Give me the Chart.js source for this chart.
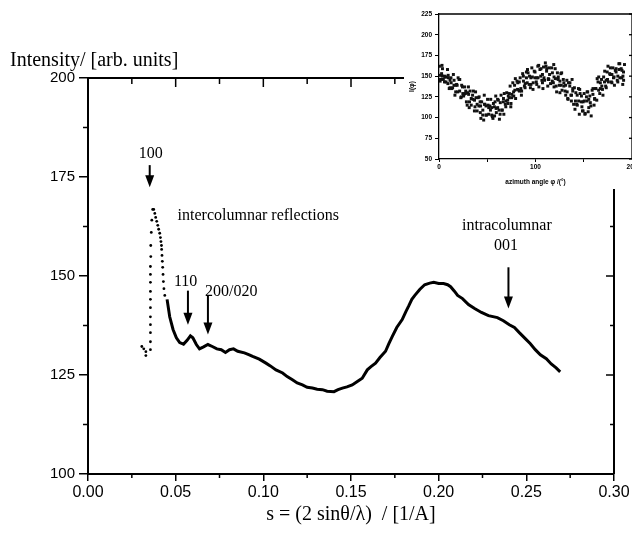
<!DOCTYPE html>
<html><head><meta charset="utf-8">
<script src="https://cdn.jsdelivr.net/npm/chart.js@4.4.1/dist/chart.umd.min.js"></script>
<style>
html,body{margin:0;padding:0;background:#fff;overflow:hidden;width:632px;height:535px;position:relative;}
#mainWrap{position:absolute;left:0;top:0;width:632px;height:535px;}
#insetWrap{position:absolute;left:404px;top:0;width:236px;height:189px;background:#fff;}
canvas{display:block;}
</style></head><body>
<div id="mainWrap"><canvas id="main" width="632" height="535"></canvas></div>
<div id="insetWrap"><canvas id="inset" width="236" height="189"></canvas></div>
<script>
// ---- main chart data ----
const xTickValues = [0, 0.05, 0.10, 0.15, 0.20, 0.25, 0.30];
const yTickValues = [100, 125, 150, 175, 200];

// steep region, drawn as separate dots
const sDots = [0.0307,0.0318,0.0330,0.0330,0.0356,0.0356,0.0356,0.0356,0.0356,0.0356,0.0356,0.0356,0.0356,0.0356,0.0356,0.0358,0.0358,0.0361,0.0364,0.0369,
  0.0375,0.0381,0.0386,0.0392,0.0398,0.0403,0.0409,0.0413,0.0416,0.0419,0.0420,0.0422,0.0424,0.0426,0.0428,0.0430,0.0433,0.0438];
const iDots = [132.2,131.6,130.9,129.9,131.4,133.4,135.7,137.7,139.7,142.0,144.1,146.1,148.4,150.4,152.4,154.9,157.7,161.0,164.1,166.8,
  166.8,165.8,164.8,163.8,162.8,161.8,160.8,159.7,158.7,157.7,156.7,155.2,153.7,152.2,150.4,148.6,146.8,145.1];

// continuous measured curve
const sLine = [0.0451,0.0466,0.0485,0.0504,0.0523,0.0545,0.0564,0.0584,0.0598,0.0618,0.0636,0.0659,0.0684,0.0709,0.0735,0.0760,0.0784,0.0807,0.0830,0.0854,
  0.0892,0.0920,0.0939,0.0977,0.1015,0.1040,0.1072,0.1110,0.1136,0.1166,0.1193,0.1223,0.1250,0.1280,0.1307,0.1337,0.1364,0.1403,0.1426,0.1451,
  0.1477,0.1507,0.1534,0.1564,0.1593,0.1614,0.1640,0.1665,0.1697,0.1716,0.1735,0.1761,0.1792,0.1813,0.1830,0.1847,0.1864,0.1892,0.1920,0.1949,
  0.1972,0.2000,0.2028,0.2051,0.2068,0.2091,0.2108,0.2136,0.2170,0.2205,0.2244,0.2284,0.2335,0.2369,0.2403,0.2432,0.2460,0.2494,0.2523,0.2551,
  0.2580,0.2614,0.2642,0.2670,0.2693];
const iLine = [144.1,139.7,136.5,134.4,133.2,132.8,133.7,134.9,134.4,132.7,131.6,132.1,132.7,132.2,131.6,131.4,130.7,131.4,131.6,131.0,
  130.6,130.1,129.7,129.0,128.0,127.3,126.3,125.5,124.6,123.8,123.0,122.5,121.9,121.7,121.4,121.3,120.9,120.8,121.3,121.7,
  122.0,122.5,123.3,124.2,126.3,127.1,128.0,129.4,131.0,132.9,134.7,137.0,139.0,141.0,142.5,144.1,145.1,146.6,147.8,148.2,
  148.4,148.1,148.1,147.8,147.3,146.1,145.1,144.3,142.8,141.8,140.8,140.0,139.5,138.7,137.7,137.0,135.7,134.2,132.9,131.4,
  130.1,129.1,127.8,126.8,125.8];

// annotations (data coordinates)
const arrowS    = [0.0352, 0.0570, 0.0684, 0.2398];
const arrowFrom = [178.0, 146.3, 145.1, 152.2];
const arrowTo   = [172.4, 137.7, 135.2, 141.8];
const labelText = ['100', '110', '200/020', 'intercolumnar reflections', 'intracolumnar', '001'];
const labelS    = [0.0358, 0.0557, 0.0817, 0.0511, 0.2389, 0.2384];
const labelI    = [180.8, 148.6, 146.1, 165.3, 162.6, 157.6];
const labelAlign= ['center','center','center','left','center','center'];

// ---- inset data (azimuthal scan) ----
const insetXTicks = [0, 50, 100, 150, 200];
const insetYTicks = [50, 75, 100, 125, 150, 175, 200, 225];
const phiA = [0.4,2.7,3.6,6.3,8.8,9.5,12.4,14.9,15.6,18.2,20.8,21.5,24.3,26.6,27.7,30.5,32.2,34.8,35.6,38.4,40.7,41.6,44.2,46.9,47.5,50.3,52.8,53.6,56.4,58.1,60.7,61.5,64.3,66.8,67.6,70.2,72.9,73.7,76.5,78.3,80.8,81.6,84.1,86.7,87.4,90.6,92.3,93.8,96.2,98.7,99.5,102.4,104.6,105.7,108.3,110.9,111.6,114.2,116.8,117.5,120.4,122.7,123.6,126.3,128.8,129.4,132.5,134.2,135.7,138.6,140.3,141.8,144.5,146.2,147.6,150.4,152.8,153.5,156.3,158.7,159.6,162.2,164.8,165.5,168.4,170.6,171.7,174.3,176.9,177.6,180.2,182.7,183.5,186.4,188.8,189.6,192.2];
const intA = [162,153,159,149,158,151,148,152,145,140,146,146,137,137,132,137,132,127,132,124,124,125,119,127,116,122,114,122,117,119,122,121,127,123,129,130,129,138,142,139,144,142,148,153,150,155,154,150,160,156,155,162,158,159,161,162,159,160,160,154,159,154,149,153,146,142,145,142,142,135,136,130,135,129,126,129,125,131,126,133,135,135,143,149,146,149,156,155,153,160,160,157,159,165,159,157,164];
const phiB = [1.2,1.6,4.5,5.7,7.3,10.6,11.4,13.2,16.5,17.3,19.4,22.6,23.1,25.5,28.4,29.2,31.6,33.4,36.7,37.3,39.5,42.8,43.4,45.3,48.6,49.2,51.5,54.7,55.3,57.6,59.4,62.6,63.3,65.5,68.7,69.2,71.4,74.6,75.3,77.5,79.4,82.8,83.3,85.6,88.5,89.2,91.4,94.7,95.3,97.6,100.8,101.3,103.5,106.6,107.2,109.4,112.7,113.3,115.6,118.5,119.2,121.4,124.7,125.3,127.5,130.6,131.3,133.4,136.7,137.2,139.5,142.6,143.3,145.4,148.7,149.3,151.5,154.6,155.2,157.4,160.7,161.3,163.5,166.6,167.2,169.4,172.7,173.3,175.5,178.6,179.2,181.4,184.7,185.3,187.5,190.6,191.3];
const intB = [144,146,146,143,143,135,136,135,127,131,131,124,125,126,119,115,119,115,108,113,108,106,99,103,103,103,104,103,101,102,106,98,104,109,116,113,117,117,124,126,123,133,132,132,138,136,142,136,140,142,143,140,137,145,142,145,138,147,141,142,137,138,139,130,133,132,127,123,127,120,116,116,115,104,108,108,105,107,112,114,115,123,121,129,135,134,138,136,143,143,142,149,145,143,148,150,145];
const phiC = [1.5,3.3,5.6,7.2,9.7,11.4,12.6,15.5,17.3,18.8,21.4,23.5,24.7,27.3,29.6,30.7,33.4,35.2,36.8,39.5,41.3,42.6,45.4,47.2,48.7,51.5,53.3,54.6,57.4,59.2,60.8,63.5,65.3,66.6,69.4,71.2,72.7,75.5,77.3,78.6,81.4,83.2,84.8,87.5,89.3,90.6,93.4,95.2,96.7,99.5,101.3,102.6,105.4,107.2,108.8,111.5,113.3,114.6,117.4,119.2,120.7,123.5,125.3,126.6,129.4,131.2,132.8,135.5,137.3,138.6,141.4,143.2,144.7,147.5,149.3,150.6,153.4,155.2,156.8,159.5,161.3,162.6,165.4,167.2,168.7,171.5,173.3,174.6,177.4,179.2,180.8,183.5,185.3,186.6,189.4,191.2];
const intC = [151,150,150,149,148,145,142,139,139,139,132,139,129,129,130,128,123,122,121,116,114,119,109,116,114,112,109,112,113,111,112,118,109,119,120,121,124,128,131,133,134,143,135,144,141,148,140,148,149,148,148,148,150,152,148,156,146,152,144,149,147,146,144,139,138,139,131,138,127,132,120,127,120,119,119,120,120,122,118,128,122,135,133,142,138,143,145,146,152,152,148,155,150,158,148,155];
const phiD = [3.1,9.2,14.1,19.8,25.9,31.3,37.9,43.1,46.3,50.8,55.9,58.8,62.2,67.2,71.8,74.4,79.1,85.4,91.7,97.4,103.3,107.7,110.2,113.8,118.9,121.9,127.1,133.7,137.9,140.9,145.8,148.1,151.2,154.1,157.7,163.9,169.9,175.1,181.8,187.3,190.4];
const intD = [163,141,136,148,128,112,131,114,97,115,99,126,109,104,126,113,147,127,158,134,163,135,166,146,164,131,154,122,146,110,134,113,104,131,102,147,127,162,139,165,140];

const SERIF = '"Liberation Serif", "Times New Roman", serif';
const SANS = '"Liberation Sans", Arial, sans-serif';

function toXY(xs, ys){ return xs.map((v,i)=>({x:v, y:ys[i]})); }

const decorPlugin = {
  id: 'decor',
  afterDraw(chart){
    const ctx = chart.ctx, a = chart.chartArea, sx = chart.scales.x, sy = chart.scales.y;
    ctx.save();
    ctx.strokeStyle = '#000'; ctx.fillStyle = '#000';
    ctx.lineWidth = 2;
    ctx.beginPath();
    ctx.moveTo(a.left, a.top); ctx.lineTo(a.right, a.top); ctx.lineTo(a.right, a.bottom);
    ctx.stroke();
    ctx.lineWidth = 1.5;
    for (let k = 0; k <= 12; k++) {
      const v = k * 0.025, px = sx.getPixelForValue(v), major = (k % 2 === 0);
      ctx.beginPath(); ctx.moveTo(px, a.top); ctx.lineTo(px, a.top + (major ? 9 : 6)); ctx.stroke();
      if (!major) { ctx.beginPath(); ctx.moveTo(px, a.bottom); ctx.lineTo(px, a.bottom + 4); ctx.stroke(); }
    }
    for (let k = 0; k <= 8; k++) {
      const v = 100 + k * 12.5, py = sy.getPixelForValue(v), major = (k % 2 === 0);
      ctx.beginPath(); ctx.moveTo(a.right, py); ctx.lineTo(a.right - (major ? 8 : 4), py); ctx.stroke();
      if (!major) { ctx.beginPath(); ctx.moveTo(a.left, py); ctx.lineTo(a.left - 5, py); ctx.stroke(); }
    }
    ctx.lineWidth = 2;
    arrowS.forEach((s, i) => {
      const x = sx.getPixelForValue(s), y0 = sy.getPixelForValue(arrowFrom[i]), y1 = sy.getPixelForValue(arrowTo[i]);
      ctx.beginPath(); ctx.moveTo(x, y0); ctx.lineTo(x, y1 - 10); ctx.stroke();
      ctx.beginPath(); ctx.moveTo(x - 4.5, y1 - 12); ctx.lineTo(x + 4.5, y1 - 12); ctx.lineTo(x, y1); ctx.closePath(); ctx.fill();
    });
    ctx.font = '16px ' + SERIF;
    ctx.textBaseline = 'middle';
    labelText.forEach((t, i) => {
      ctx.textAlign = labelAlign[i];
      ctx.fillText(t, sx.getPixelForValue(labelS[i]), sy.getPixelForValue(labelI[i]));
    });
    ctx.font = '20px ' + SERIF;
    ctx.textAlign = 'left'; ctx.textBaseline = 'alphabetic';
    ctx.fillText('Intensity/ [arb. units]', 10, 66);
    ctx.restore();
  }
};

new Chart(document.getElementById('main'), {
  type: 'scatter',
  data: { datasets: [
    { data: toXY(sDots, iDots), showLine: false, pointRadius: 1.4, pointBackgroundColor: '#000', pointBorderWidth: 0, borderColor: '#000' },
    { data: toXY(sLine, iLine), showLine: true, borderColor: '#000', borderWidth: 3, pointRadius: 0, tension: 0 }
  ]},
  options: {
    responsive: false, devicePixelRatio: 1, animation: false,
    layout: { padding: { top: 78, right: 18, left: 0, bottom: 0 } },
    plugins: { legend: { display: false }, tooltip: { enabled: false } },
    scales: {
      x: {
        type: 'linear', min: 0, max: 0.3,
        afterBuildTicks: ax => { ax.ticks = xTickValues.map(v => ({ value: v })); },
        afterFit: sc => { sc.height = 61; },
        ticks: { color: '#000', font: { family: SANS, size: 16 }, padding: 2, maxRotation: 0, callback: v => Number(v).toFixed(2) },
        grid: { drawOnChartArea: false, drawTicks: true, tickLength: 7, color: '#000', lineWidth: 1.5 },
        border: { display: true, color: '#000', width: 2 },
        title: { display: true, text: 's = (2 sinθ/λ)  / [1/A]', color: '#000', font: { family: SERIF, size: 20 }, padding: { top: 0, bottom: 8 } }
      },
      y: {
        type: 'linear', min: 100, max: 200,
        afterBuildTicks: ax => { ax.ticks = yTickValues.map(v => ({ value: v })); },
        afterFit: sc => { sc.width = 88; },
        ticks: { color: '#000', font: { family: SANS, size: 15 }, padding: 4 },
        grid: { drawOnChartArea: false, drawTicks: true, tickLength: 9, color: '#000', lineWidth: 1.5 },
        border: { display: true, color: '#000', width: 2 }
      }
    }
  },
  plugins: [decorPlugin]
});

// ---- inset ----
const insetFrame = {
  id: 'insetFrame',
  afterDraw(chart){
    const ctx = chart.ctx, a = chart.chartArea;
    ctx.save(); ctx.strokeStyle = '#000'; ctx.lineWidth = 1.3;
    ctx.beginPath(); ctx.moveTo(a.left, a.top); ctx.lineTo(a.right, a.top); ctx.lineTo(a.right, a.bottom); ctx.stroke();
    const sy = chart.scales.y;
    insetYTicks.forEach(v => { const py = sy.getPixelForValue(v); ctx.beginPath(); ctx.moveTo(a.right, py); ctx.lineTo(a.right - 3, py); ctx.stroke(); });
    ctx.restore();
  }
};
const IFONT = { family: SANS, size: 6.5, weight: 'bold' };
const dotStyle = { pointStyle: 'rect', pointRadius: 2.1, pointBackgroundColor: '#111', pointBorderWidth: 0 };
new Chart(document.getElementById('inset'), {
  type: 'scatter',
  data: { datasets: [
    Object.assign({ data: toXY(phiA, intA) }, dotStyle),
    Object.assign({ data: toXY(phiB, intB) }, dotStyle),
    Object.assign({ data: toXY(phiC, intC) }, dotStyle),
    Object.assign({ data: toXY(phiD, intD) }, dotStyle)
  ]},
  options: {
    responsive: false, devicePixelRatio: 1, animation: false,
    layout: { padding: { top: 14, right: 8, left: 0, bottom: 0 } },
    plugins: { legend: { display: false }, tooltip: { enabled: false } },
    scales: {
      x: {
        type: 'linear', min: 0, max: 200,
        afterBuildTicks: ax => { ax.ticks = insetXTicks.map(v => ({ value: v })); },
        afterFit: sc => { sc.height = 30; },
        ticks: { color: '#000', font: IFONT, padding: 1, maxRotation: 0, callback: v => (v % 100 === 0 ? String(v) : '') },
        grid: { drawOnChartArea: false, tickLength: 3, color: '#000', lineWidth: 1 },
        border: { display: true, color: '#000', width: 1.3 },
        title: { display: true, text: 'azimuth angle φ /(°)', color: '#000', font: IFONT, padding: { top: 0, bottom: 3 } }
      },
      y: {
        type: 'linear', min: 50, max: 225,
        afterBuildTicks: ax => { ax.ticks = insetYTicks.map(v => ({ value: v })); },
        afterFit: sc => { sc.width = 35; },
        ticks: { color: '#000', font: IFONT, padding: 3 },
        grid: { drawOnChartArea: false, tickLength: 4, color: '#000', lineWidth: 1 },
        border: { display: true, color: '#000', width: 1.3 },
        title: { display: true, text: 'I(φ)', color: '#000', font: IFONT, padding: { top: 4, bottom: 0 } }
      }
    }
  },
  plugins: [insetFrame]
});
</script>
</body></html>
